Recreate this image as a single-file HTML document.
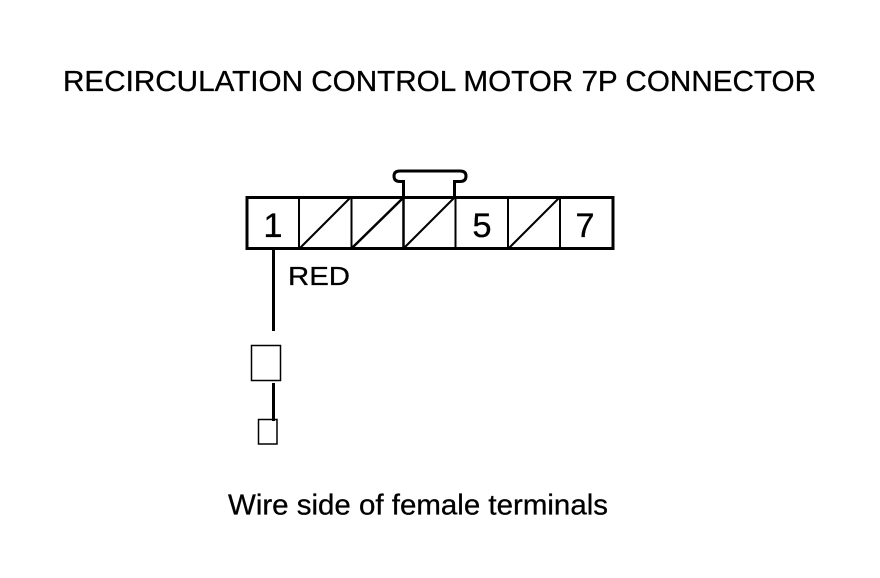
<!DOCTYPE html>
<html>
<head>
<meta charset="utf-8">
<style>
html,body{margin:0;padding:0;background:#fff;width:880px;height:578px;overflow:hidden}
svg{display:block}
text{font-family:"Liberation Sans",sans-serif;fill:#000;stroke:#000;stroke-width:.3px}
</style>
</head>
<body>
<svg width="880" height="578" viewBox="0 0 880 578" xmlns="http://www.w3.org/2000/svg">
<rect width="880" height="578" fill="#fff"/>
<text x="63" y="91" font-size="28.5" textLength="753" lengthAdjust="spacingAndGlyphs">RECIRCULATION CONTROL MOTOR 7P CONNECTOR</text>

<!-- tab -->
<path d="M403.5 196V181.5H400Q394 181.5 394 176Q394 171 400 171H460Q466 171 466 176Q466 181.5 460 181.5H454.5V196" fill="none" stroke="#000" stroke-width="3"/>

<!-- connector -->
<rect x="247" y="197.5" width="366" height="51" fill="#fff" stroke="#000" stroke-width="3"/>
<g stroke="#000" stroke-width="2" fill="none">
<line x1="299" y1="197" x2="299" y2="249"/>
<line x1="351.5" y1="197" x2="351.5" y2="249"/>
<line x1="403.5" y1="197" x2="403.5" y2="249" stroke-width="2.5"/>
<line x1="455.5" y1="197" x2="455.5" y2="249"/>
<line x1="508" y1="197" x2="508" y2="249"/>
<line x1="560" y1="197" x2="560" y2="249"/>
<line x1="300" y1="248" x2="350" y2="198"/>
<line x1="352" y1="248" x2="403" y2="198" stroke-width="2.5"/>
<line x1="404" y1="248" x2="454" y2="198"/>
<line x1="509" y1="248" x2="559" y2="198"/>
</g>
<text x="273" y="237" font-size="34.5" text-anchor="middle">1</text>
<text x="482" y="237" font-size="34.5" text-anchor="middle">5</text>
<text x="585" y="237" font-size="34.5" text-anchor="middle">7</text>
<text x="288" y="285" font-size="26" textLength="62" lengthAdjust="spacingAndGlyphs">RED</text>

<!-- wire -->
<line x1="273.5" y1="250" x2="273.5" y2="331" stroke="#000" stroke-width="3"/>
<rect x="251.5" y="345.5" width="29" height="35" fill="#fff" stroke="#000" stroke-width="1.5"/>
<line x1="273.5" y1="383" x2="273.5" y2="421" stroke="#000" stroke-width="3"/>
<rect x="258.5" y="419.5" width="18.5" height="24.5" fill="none" stroke="#000" stroke-width="1.5"/>

<text x="228" y="514.5" font-size="29" textLength="380" lengthAdjust="spacingAndGlyphs">Wire side of female terminals</text>
</svg>
</body>
</html>
